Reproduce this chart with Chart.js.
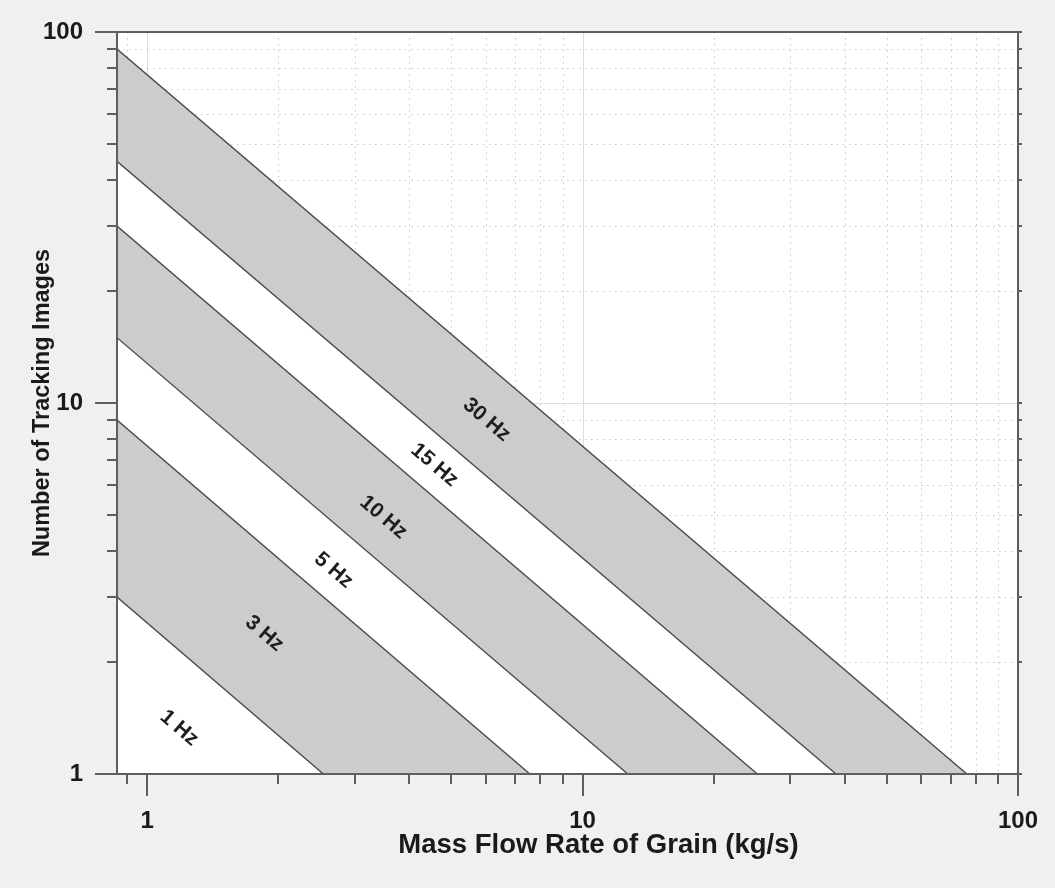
<!DOCTYPE html>
<html lang="en">
<head>
    <meta charset="UTF-8">
    <title>Tracking images vs mass flow rate</title>
    <script src="https://cdn.jsdelivr.net/npm/chart.js"></script>
    <style>
        html, body { margin: 0; padding: 0; background: #f0f0f0; }
        #wrap { width: 1055px; height: 888px; }
    </style>
</head>
<body>
<div id="wrap"><canvas id="chart"></canvas></div>
<script>
    // frame rate lines, top to bottom
    const rates = ['30 Hz', '15 Hz', '10 Hz', '5 Hz', '3 Hz', '1 Hz'];
    // images where each line leaves the left edge (at xMin)
    const leftImages = [90, 44.8, 30, 15, 9, 3];
    // flow rate where each line reaches 1 image
    const flowAtOne = [76.3, 38.2, 25.2, 12.7, 7.57, 2.54];
    // colour of the band under each line
    const bandColors = ['#cccccc', '#ffffff', '#cccccc', '#ffffff', '#cccccc', '#ffffff'];
    // where the rate labels sit (flow, images)
    const labelFlow = [6.02, 4.57, 3.49, 2.68, 1.86, 1.185];
    const labelImages = [9.0, 6.8, 4.92, 3.54, 2.39, 1.33];

    const xMin = 0.853, xMax = 100;
    const yMin = 1, yMax = 100;
    const xTicks = [0.9, 1, 2, 3, 4, 5, 6, 7, 8, 9, 10, 20, 30, 40, 50, 60, 70, 80, 90, 100];
    const yTicks = [1, 2, 3, 4, 5, 6, 7, 8, 9, 10, 20, 30, 40, 50, 60, 70, 80, 90, 100];
    const majorTicks = [1, 10, 100];
    const xTitle = 'Mass Flow Rate of Grain (kg/s)';

    const FONT = "'Liberation Sans', Arial, sans-serif";

    const datasets = rates.map((r, i) => ({
        label: r,
        data: [{x: xMin, y: leftImages[i]}, {x: flowAtOne[i], y: 1}],
        borderColor: '#4a4a4a',
        borderWidth: 1.4,
        backgroundColor: bandColors[i],
        fill: 'start',
        pointRadius: 0,
        tension: 0,
        order: rates.length - i
    }));

    const framePlugin = {
        id: 'frame',
        beforeDatasetsDraw(chart) {
            const {ctx, chartArea: a} = chart;
            const xs = chart.scales.x, ys = chart.scales.y;
            ctx.save();
            ctx.fillStyle = '#ffffff';
            ctx.fillRect(a.left, a.top, a.right - a.left, a.bottom - a.top);
            ctx.lineWidth = 1;
            xTicks.forEach(v => {
                const px = Math.round(xs.getPixelForValue(v)) + 0.5;
                const major = majorTicks.includes(v);
                ctx.strokeStyle = major ? '#dddddd' : '#c8c8c8';
                ctx.setLineDash(major ? [] : [1.5, 4.5]);
                ctx.beginPath(); ctx.moveTo(px, a.top); ctx.lineTo(px, a.bottom); ctx.stroke();
            });
            yTicks.forEach(v => {
                const py = Math.round(ys.getPixelForValue(v)) + 0.5;
                const major = majorTicks.includes(v);
                ctx.strokeStyle = major ? '#dddddd' : '#c8c8c8';
                ctx.setLineDash(major ? [] : [1.5, 4.5]);
                ctx.beginPath(); ctx.moveTo(a.left, py); ctx.lineTo(a.right, py); ctx.stroke();
            });
            ctx.restore();
        },
        afterDatasetsDraw(chart) {
            const {ctx} = chart;
            const xs = chart.scales.x, ys = chart.scales.y;
            const angle = Math.atan2(ys.getPixelForValue(1) - ys.getPixelForValue(10),
                xs.getPixelForValue(10) - xs.getPixelForValue(1));
            ctx.save();
            ctx.font = 'bold 21px ' + FONT;
            ctx.fillStyle = '#1e1e1e';
            ctx.textAlign = 'center';
            ctx.textBaseline = 'middle';
            rates.forEach((r, i) => {
                ctx.save();
                ctx.translate(xs.getPixelForValue(labelFlow[i]), ys.getPixelForValue(labelImages[i]));
                ctx.rotate(angle);
                ctx.fillText(r, 0, 0);
                ctx.restore();
            });
            ctx.restore();
        },
        afterDraw(chart) {
            const {ctx, chartArea: a} = chart;
            const xs = chart.scales.x, ys = chart.scales.y;
            ctx.save();
            ctx.strokeStyle = '#5e5e5e';
            ctx.lineWidth = 2;
            ctx.beginPath();
            ctx.moveTo(a.left, a.top); ctx.lineTo(a.right, a.top);
            ctx.moveTo(a.left, a.top); ctx.lineTo(a.left, a.bottom);
            ctx.moveTo(a.left, a.bottom); ctx.lineTo(a.right + 2, a.bottom);
            ctx.moveTo(a.right, a.top); ctx.lineTo(a.right, a.bottom);
            yTicks.forEach(v => {
                const py = Math.round(ys.getPixelForValue(v));
                const len = majorTicks.includes(v) ? 22 : 10;
                ctx.moveTo(a.left - len, py); ctx.lineTo(a.left, py);
                ctx.moveTo(a.right, py); ctx.lineTo(a.right + 4, py);
            });
            xTicks.forEach(v => {
                const px = Math.round(xs.getPixelForValue(v));
                const len = majorTicks.includes(v) ? 22 : 10;
                ctx.moveTo(px, a.bottom); ctx.lineTo(px, a.bottom + len);
            });
            ctx.stroke();

            // x axis title sits a little right of the plot centre
            ctx.font = 'bold 27.5px ' + FONT;
            ctx.fillStyle = '#1a1a1a';
            ctx.textAlign = 'center';
            ctx.textBaseline = 'middle';
            ctx.fillText(xTitle, (a.left + a.right) / 2 + 31, a.bottom + 71);
            ctx.restore();
        }
    };

    new Chart(document.getElementById('chart'), {
        type: 'line',
        data: {datasets: datasets},
        options: {
            responsive: true,
            maintainAspectRatio: false,
            animation: false,
            layout: {padding: {left: 0, right: 37, top: 32, bottom: 0}},
            plugins: {
                legend: {display: false},
                tooltip: {enabled: false}
            },
            scales: {
                x: {
                    type: 'logarithmic',
                    min: xMin,
                    max: xMax,
                    afterBuildTicks: s => { s.ticks = xTicks.map(v => ({value: v})); },
                    afterFit: s => {
                        s.height = 114;
                        s.paddingLeft = 0; s.paddingRight = 0;
                    },
                    grid: {display: false, drawTicks: false},
                    border: {display: false},
                    ticks: {
                        autoSkip: false,
                        maxRotation: 0,
                        padding: 33,
                        color: '#1a1a1a',
                        font: {family: FONT, size: 24, weight: 'bold'},
                        callback: v => majorTicks.includes(v) ? String(v) : ''
                    },
                    title: {display: false}
                },
                y: {
                    type: 'logarithmic',
                    min: yMin,
                    max: yMax,
                    afterBuildTicks: s => { s.ticks = yTicks.map(v => ({value: v})); },
                    afterFit: s => {
                        s.width = 117;
                        s.paddingTop = 0; s.paddingBottom = 0;
                    },
                    grid: {display: false, drawTicks: false},
                    border: {display: false},
                    ticks: {
                        autoSkip: false,
                        padding: 34,
                        color: '#1a1a1a',
                        font: {family: FONT, size: 24, weight: 'bold'},
                        callback: v => majorTicks.includes(v) ? String(v) : ''
                    },
                    title: {
                        display: true,
                        text: 'Number of Tracking Images',
                        color: '#1a1a1a',
                        font: {family: FONT, size: 23.5, weight: 'bold'},
                        padding: {top: 28, bottom: 0}
                    }
                }
            }
        },
        plugins: [framePlugin]
    });
</script>
</body>
</html>
